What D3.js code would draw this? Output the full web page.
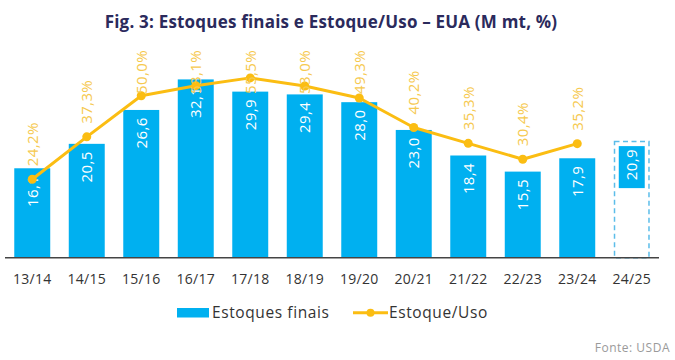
<!DOCTYPE html>
<html><head><meta charset="utf-8">
<script src="https://cdn.jsdelivr.net/npm/d3@7"></script>
<style>body{margin:0;background:#fff}svg{display:block;font-family:"Open Sans",sans-serif}</style>
</head><body><svg id="c" width="675" height="360"></svg>
<script>
const categories = ["13/14","14/15","15/16","16/17","17/18","18/19","19/20","20/21","21/22","22/23","23/24","24/25"];
const stocks = [16.1,20.5,26.6,32.1,29.9,29.4,28.0,23.0,18.4,15.5,17.9,20.9];
const stockUse = [24.2,37.3,50.0,53.1,55.5,53.0,49.3,40.2,35.3,30.4,35.2,null];
const projected = ["24/25"];
const legendLabels = ["Estoques finais","Estoque/Uso"];

const svg = d3.select("#c");
const BLUE = "#00b0f0", LINE = "#fbbd12", LBL = "#f6c94f";
const fmt = v => d3.format(".1f")(v).replace(".", ",");

const x = d3.scaleBand().domain(categories).range([5, 659]).paddingInner(0.34).paddingOuter(0.17);
const y = d3.scaleLinear().domain([0, 35]).range([257.7, 63.3]);
const yp = d3.scaleLinear().domain([0, 60]).range([257.7, 63.3]);

// title
svg.append("text").attr("x", 331).attr("y", 28).attr("text-anchor", "middle")
  .attr("font-size", 17).attr("font-weight", 700).attr("fill", "#2b2a5c").attr("letter-spacing", 0.2)
  .text("Fig. 3: Estoques finais e Estoque/Uso – EUA (M mt, %)");

const data = categories.map((c, i) => ({c, v: stocks[i], p: stockUse[i], proj: projected.includes(c)}));

// bars
svg.append("g").selectAll("rect").data(data.filter(d => !d.proj)).join("rect")
  .attr("x", d => x(d.c)).attr("width", x.bandwidth())
  .attr("y", d => y(d.v)).attr("height", d => y(0) - y(d.v)).attr("fill", BLUE);

// projected bar (dashed outline)
const pj = data.filter(d => d.proj);
svg.append("g").selectAll("rect").data(pj).join("rect")
  .attr("x", d => x(d.c) + 0.75).attr("width", x.bandwidth() - 1.5)
  .attr("y", d => y(d.v)).attr("height", d => y(0) - y(d.v))
  .attr("fill", "none").attr("stroke", "#5cbde9").attr("stroke-width", 1.5).attr("stroke-dasharray", "5,3.5");
svg.append("g").selectAll("rect").data(pj).join("rect")
  .attr("x", d => x(d.c) + 5).attr("width", x.bandwidth() - 10)
  .attr("y", d => y(d.v) + 4.5).attr("height", 42).attr("fill", BLUE);

// axis line
svg.append("line").attr("x1", 5).attr("x2", 659).attr("y1", y(0)).attr("y2", y(0))
  .attr("stroke", "#444").attr("stroke-width", 1.5);

// bar labels
svg.append("g").selectAll("text").data(data).join("text")
  .attr("transform", d => `translate(${x(d.c) + x.bandwidth() / 2},${y(d.v) + 23}) rotate(-90)`)
  .attr("text-anchor", "middle").attr("dy", "0.35em").attr("letter-spacing", 0.4)
  .attr("font-size", 15).attr("fill", "#fff").text(d => fmt(d.v));

// line
const pd = data.filter(d => d.p != null);
const cx = d => x(d.c) + x.bandwidth() / 2;
svg.append("path").datum(pd)
  .attr("d", d3.line().x(cx).y(d => yp(d.p)))
  .attr("fill", "none").attr("stroke", LINE).attr("stroke-width", 3).attr("stroke-linejoin", "round");
svg.append("g").selectAll("circle").data(pd).join("circle")
  .attr("cx", cx).attr("cy", d => yp(d.p)).attr("r", 4.5).attr("fill", LINE);

// percent labels
svg.append("g").selectAll("text").data(pd).join("text")
  .attr("text-anchor", "end").attr("dy", "0.35em").attr("letter-spacing", 0.4)
  .attr("font-size", 15).attr("fill", LBL).text(d => fmt(d.p) + "%")
  .each(function(d) {
    const len = this.getComputedTextLength();
    const top = Math.max(50, yp(d.p) - 13 - len);
    d3.select(this).attr("transform", `translate(${cx(d)},${top}) rotate(-90)`);
  });

// x tick labels
const ax = svg.append("g").attr("transform", `translate(0,${y(0)})`)
  .call(d3.axisBottom(x).tickSize(0).tickPadding(16));
ax.select(".domain").remove();
ax.selectAll("text").attr("font-size", 14).attr("fill", "#333").attr("letter-spacing", 0.3)
  .attr("font-family", "'Open Sans',sans-serif");

// legend
const lg = svg.append("g");
lg.append("rect").attr("x", 177).attr("y", 308).attr("width", 32).attr("height", 9.5).attr("fill", BLUE);
lg.append("text").attr("x", 212).attr("y", 318).attr("font-size", 15.5).attr("letter-spacing", 0.6)
  .attr("fill", "#333").text(legendLabels[0]);
lg.append("line").attr("x1", 353).attr("x2", 388).attr("y1", 312.7).attr("y2", 312.7).attr("stroke", LINE).attr("stroke-width", 3);
lg.append("circle").attr("cx", 370.5).attr("cy", 312.7).attr("r", 4).attr("fill", LINE);
lg.append("text").attr("x", 389).attr("y", 318).attr("font-size", 15.5).attr("letter-spacing", 0.6)
  .attr("fill", "#333").text(legendLabels[1]);

// source
svg.append("text").attr("x", 670).attr("y", 352).attr("text-anchor", "end").attr("letter-spacing", 0.5)
  .attr("font-size", 12).attr("fill", "#9a9a9a").text("Fonte: USDA");
</script></body></html>
